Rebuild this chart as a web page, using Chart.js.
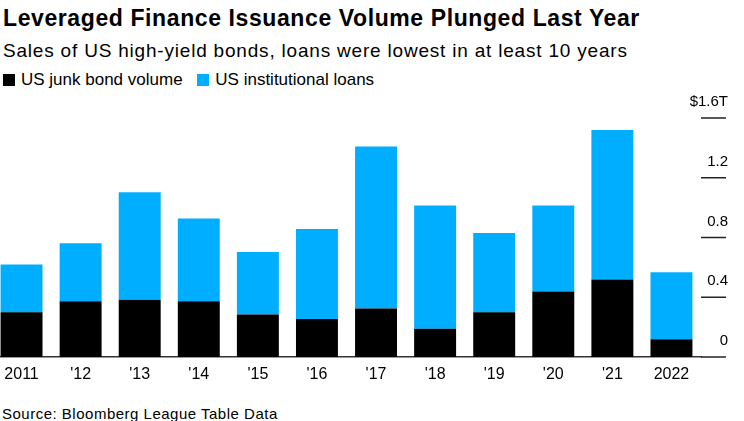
<!DOCTYPE html>
<html>
<head>
<meta charset="utf-8">
<script src="https://cdn.jsdelivr.net/npm/chart.js@4"></script>
<style>
    html, body { margin: 0; padding: 0; background: #fff; }
    body { width: 744px; height: 421px; position: relative; overflow: hidden; font-family: 'Liberation Sans', Arial, sans-serif; color: #000; }
    .titulo { position: absolute; left: 3px; top: 5px; font-size: 23px; font-weight: bold; letter-spacing: 0.6px; white-space: nowrap; }
    .subtitulo { position: absolute; left: 3px; top: 40px; font-size: 19px; letter-spacing: 0.8px; white-space: nowrap; }
    .leyenda { position: absolute; left: 3px; top: 70px; font-size: 17px; white-space: nowrap; }
    .leyenda span.cuadro { display: inline-block; width: 12px; height: 12px; margin-right: 6px; vertical-align: -1px; }
    .leyenda span.item { margin-right: 10px; }
    .fuente { position: absolute; left: 2px; top: 405px; font-size: 15px; letter-spacing: 0.5px; white-space: nowrap; }
    #grafico-wrap { position: absolute; left: -8px; top: 90px; width: 752px; height: 300px; }
</style>
</head>
<body>
<div class="titulo">Leveraged Finance Issuance Volume Plunged Last Year</div>
<div class="subtitulo">Sales of US high-yield bonds, loans were lowest in at least 10 years</div>
<div class="leyenda">
    <span class="item"><span class="cuadro" style="background:#000"></span>US junk bond volume</span>
    <span class="item"><span class="cuadro" style="background:#00aeff"></span>US institutional loans</span>
</div>
<div id="grafico-wrap"><canvas id="grafico"></canvas></div>
<div class="fuente">Source: Bloomberg League Table Data</div>

<script>
// Datos (billones de USD)
const anios = ['2011', "'12", "'13", "'14", "'15", "'16", "'17", "'18", "'19", "'20", "'21", '2022'];
const bonosBasura = [0.30, 0.374, 0.383, 0.374, 0.285, 0.254, 0.325, 0.189, 0.30, 0.438, 0.518, 0.118];
const prestamosInst = [0.32, 0.387, 0.72, 0.554, 0.418, 0.603, 1.084, 0.826, 0.53, 0.577, 1.002, 0.45];
const ticksY = [0, 0.4, 0.8, 1.2, 1.6];

const fuente = "'Liberation Sans', Arial, sans-serif";

// Marcas cortas del eje Y (a la derecha, debajo de cada etiqueta);
// la del 0 prolonga la línea base
const marcasEjeY = {
    id: 'marcasEjeY',
    afterDraw(grafico) {
        const eje = grafico.scales.y;
        const c = grafico.ctx;
        c.save();
        c.strokeStyle = '#222';
        c.lineWidth = 1.5;
        ticksY.forEach(v => {
            const y = eje.getPixelForValue(v);
            c.beginPath();
            c.moveTo(eje.left, y);
            c.lineTo(eje.left + 25, y);
            c.stroke();
        });
        c.restore();
    }
};

const ctx = document.getElementById('grafico');
const chart = new Chart(ctx, {
    type: 'bar',
    data: {
        labels: anios,
        datasets: [
            {
                label: 'US junk bond volume',
                data: bonosBasura,
                backgroundColor: '#000000',
                borderWidth: 0
            },
            {
                label: 'US institutional loans',
                data: prestamosInst,
                backgroundColor: '#00aeff',
                borderWidth: 0
            }
        ]
    },
    plugins: [marcasEjeY],
    options: {
        responsive: true,
        maintainAspectRatio: false,
        animation: false,
        layout: { padding: { top: 28, right: 18, bottom: 3, left: 0 } },
        plugins: {
            legend: { display: false },
            tooltip: { enabled: false }
        },
        datasets: {
            bar: { categoryPercentage: 1, barPercentage: 0.71 }
        },
        scales: {
            x: {
                stacked: true,
                grid: { display: false, drawTicks: false },
                border: { display: true, color: '#333', width: 1.5 },
                ticks: {
                    color: '#000',
                    padding: 8,
                    maxRotation: 0,
                    autoSkip: false,
                    font: { family: fuente, size: 16 }
                },
                afterFit: (scale) => { scale.height = 30; }
            },
            y: {
                stacked: true,
                position: 'right',
                min: 0,
                max: 1.6,
                afterBuildTicks: (scale) => {
                    scale.ticks = ticksY.map(v => ({ value: v }));
                },
                afterFit: (scale) => {
                    scale.width = 25;
                    // sin margen extra arriba/abajo por las etiquetas
                    scale.paddingTop = 0;
                    scale.paddingBottom = 0;
                },
                grid: { display: false, drawTicks: false },
                border: { display: false },
                ticks: {
                    mirror: true,
                    padding: 27,
                    labelOffset: -16,
                    color: '#000',
                    font: { family: fuente, size: 15 },
                    callback: (v) => v === 1.6 ? '$1.6T' : (v === 0 ? '0' : v.toFixed(1))
                }
            }
        }
    }
});
</script>
</body>
</html>
